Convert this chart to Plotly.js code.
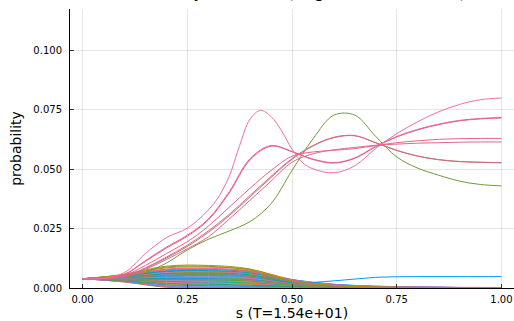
<!DOCTYPE html>
<html>
<head>
<meta charset="utf-8">
<script src="https://cdn.plot.ly/plotly-3.0.1.min.js"></script>
<style>html,body{margin:0;padding:0;background:#fff;}#chart{width:514px;height:321px;}</style>
</head>
<body>
<div id="chart"></div>
<script>
// ---- data ----
const chartTitle = "Probability evolution (largest states at end)";
const xTitle = "s (T=1.54e+01)";
const yTitle = "probability";
const xTickVals = [0, 0.25, 0.5, 0.75, 1.0];
const xTickText = ["0.00", "0.25", "0.50", "0.75", "1.00"];
const yTickVals = [0, 0.025, 0.05, 0.075, 0.1];
const yTickText = ["0.000", "0.025", "0.050", "0.075", "0.100"];

// most probable state, sampled more finely around its peak
const sA = [0,0.05,0.1,0.15,0.2,0.25,0.3,0.325,0.35,0.375,0.4,0.425,0.45,0.475,0.5,0.525,0.55,0.6,0.65,0.7,0.75,0.8,0.85,0.9,0.95,1.0];
const stateA = [0.0039,0.0041,0.0065,0.0145,0.0212,0.0252,0.0328,0.0385,0.0470,0.0600,0.0712,0.0748,0.0722,0.0662,0.0585,0.0528,0.0502,0.0485,0.0515,0.0588,0.0650,0.0700,0.0742,0.0773,0.0793,0.0800];

// other dominant states, sampled every 0.05 in s
const sHigh = [0,0.05,0.1,0.15,0.2,0.25,0.3,0.35,0.4,0.45,0.5,0.55,0.6,0.65,0.7,0.75,0.8,0.85,0.9,0.95,1.0];
const stateB1 = [0.0039,0.0040,0.0058,0.0115,0.0172,0.0222,0.0290,0.0405,0.0545,0.0600,0.0575,0.0543,0.0528,0.0548,0.0597,0.0638,0.0668,0.0690,0.0706,0.0714,0.0718];
const stateB2 = [0.0039,0.0040,0.0057,0.0112,0.0168,0.0218,0.0286,0.0400,0.0540,0.0597,0.0574,0.0541,0.0526,0.0546,0.0595,0.0636,0.0666,0.0688,0.0704,0.0712,0.0716];
const stateE = [0.0039,0.0040,0.0053,0.0095,0.0145,0.0195,0.0260,0.0340,0.0420,0.0495,0.0555,0.0573,0.0580,0.0587,0.0600,0.0612,0.0620,0.0626,0.0629,0.0630,0.0630];
const stateC1 = [0.0039,0.0040,0.0050,0.0085,0.0130,0.0180,0.0240,0.0310,0.0390,0.0470,0.0545,0.0600,0.0635,0.0642,0.0612,0.0580,0.0556,0.0541,0.0533,0.0530,0.0528];
const stateC2 = [0.0039,0.0040,0.0049,0.0082,0.0126,0.0175,0.0234,0.0304,0.0384,0.0465,0.0542,0.0598,0.0633,0.0641,0.0611,0.0579,0.0555,0.0540,0.0532,0.0529,0.0527];
const stateD = [0.0039,0.0040,0.0048,0.0078,0.0120,0.0165,0.0215,0.0290,0.0370,0.0450,0.0530,0.0565,0.0582,0.0592,0.0601,0.0606,0.0610,0.0612,0.0614,0.0615,0.0615];
const stateG = [0.0039,0.0040,0.0045,0.0065,0.0105,0.0160,0.0205,0.0240,0.0280,0.0355,0.0495,0.0628,0.0728,0.0728,0.0638,0.0552,0.0505,0.0475,0.0450,0.0436,0.0430];

// remaining states, sampled every 0.1 in s
const sLow = [0,0.1,0.2,0.3,0.4,0.5,0.6,0.7,0.8,0.9,1.0];
const low01 = [0.0039,0.0058,0.0092,0.0095,0.0080,0.0030,0.0010,0.0004,0.0002,0.0001,0.0000];
const low02 = [0.0039,0.0056,0.0088,0.0091,0.0075,0.0028,0.0009,0.0004,0.0002,0.0001,0.0000];
const low03 = [0.0039,0.0054,0.0080,0.0083,0.0072,0.0032,0.0012,0.0005,0.0002,0.0001,0.0000];
const low04 = [0.0039,0.0053,0.0077,0.0080,0.0068,0.0026,0.0009,0.0003,0.0001,0.0000,0.0000];
const low05 = [0.0039,0.0052,0.0072,0.0076,0.0068,0.0024,0.0030,0.0045,0.0048,0.0048,0.0048];
const low06 = [0.0039,0.0051,0.0070,0.0073,0.0064,0.0030,0.0011,0.0004,0.0002,0.0001,0.0000];
const low07 = [0.0039,0.0050,0.0067,0.0070,0.0062,0.0034,0.0015,0.0007,0.0004,0.0002,0.0001];
const low08 = [0.0039,0.0049,0.0064,0.0067,0.0059,0.0025,0.0008,0.0003,0.0001,0.0000,0.0000];
const low09 = [0.0039,0.0048,0.0061,0.0064,0.0056,0.0027,0.0010,0.0004,0.0002,0.0001,0.0000];
const low10 = [0.0039,0.0047,0.0058,0.0061,0.0054,0.0029,0.0012,0.0005,0.0002,0.0001,0.0000];
const low11 = [0.0039,0.0046,0.0055,0.0058,0.0051,0.0023,0.0008,0.0003,0.0001,0.0000,0.0000];
const low12 = [0.0039,0.0045,0.0053,0.0055,0.0049,0.0026,0.0011,0.0005,0.0003,0.0002,0.0001];
const low13 = [0.0039,0.0044,0.0050,0.0052,0.0046,0.0022,0.0008,0.0003,0.0001,0.0000,0.0000];
const low14 = [0.0039,0.0043,0.0048,0.0049,0.0044,0.0024,0.0010,0.0005,0.0003,0.0002,0.0001];
const low15 = [0.0039,0.0042,0.0045,0.0046,0.0041,0.0020,0.0008,0.0003,0.0002,0.0001,0.0001];
const low16 = [0.0039,0.0041,0.0043,0.0043,0.0038,0.0019,0.0007,0.0003,0.0001,0.0000,0.0000];
const low17 = [0.0039,0.0040,0.0040,0.0040,0.0036,0.0020,0.0009,0.0004,0.0002,0.0001,0.0000];
const low18 = [0.0039,0.0039,0.0038,0.0037,0.0033,0.0017,0.0007,0.0003,0.0001,0.0000,0.0000];
const low19 = [0.0039,0.0038,0.0035,0.0034,0.0030,0.0016,0.0007,0.0003,0.0001,0.0000,0.0000];
const low20 = [0.0039,0.0037,0.0033,0.0031,0.0028,0.0016,0.0008,0.0004,0.0003,0.0002,0.0001];
const low21 = [0.0039,0.0036,0.0030,0.0028,0.0025,0.0014,0.0006,0.0002,0.0001,0.0000,0.0000];
const low22 = [0.0039,0.0035,0.0028,0.0025,0.0022,0.0013,0.0006,0.0002,0.0001,0.0000,0.0000];
const low23 = [0.0039,0.0034,0.0025,0.0022,0.0019,0.0012,0.0006,0.0003,0.0002,0.0001,0.0001];
const low24 = [0.0039,0.0033,0.0022,0.0019,0.0016,0.0010,0.0005,0.0002,0.0001,0.0000,0.0000];
const low25 = [0.0039,0.0032,0.0020,0.0016,0.0013,0.0008,0.0004,0.0002,0.0001,0.0000,0.0000];
const low26 = [0.0039,0.0031,0.0017,0.0013,0.0011,0.0007,0.0003,0.0001,0.0000,0.0000,0.0000];
const low27 = [0.0039,0.0030,0.0014,0.0010,0.0008,0.0005,0.0003,0.0001,0.0000,0.0000,0.0000];
const low28 = [0.0039,0.0029,0.0012,0.0008,0.0006,0.0004,0.0002,0.0001,0.0000,0.0000,0.0000];
const low29 = [0.0039,0.0028,0.0009,0.0005,0.0004,0.0003,0.0001,0.0000,0.0000,0.0000,0.0000];
const low30 = [0.0039,0.0027,0.0007,0.0003,0.0002,0.0001,0.0000,0.0000,0.0000,0.0000,0.0000];
const low31 = [0.0039,0.0026,0.0005,0.0002,0.0001,0.0000,0.0000,0.0000,0.0000,0.0000,0.0000];
const low32 = [0.0039,0.0025,0.0003,0.0001,0.0000,0.0000,0.0000,0.0000,0.0000,0.0000,0.0000];
const low33 = [0.0039,0.0050,0.0069,0.0071,0.0063,0.0035,0.0016,0.0008,0.0004,0.0002,0.0001];
const low34 = [0.0039,0.0047,0.0062,0.0066,0.0060,0.0033,0.0013,0.0005,0.0002,0.0001,0.0000];
const low35 = [0.0039,0.0044,0.0052,0.0054,0.0050,0.0031,0.0014,0.0006,0.0003,0.0001,0.0000];
const low36 = [0.0039,0.0041,0.0044,0.0045,0.0042,0.0027,0.0012,0.0005,0.0003,0.0002,0.0001];
const low37 = [0.0039,0.0055,0.0085,0.0088,0.0078,0.0036,0.0014,0.0006,0.0003,0.0001,0.0000];
const low38 = [0.0039,0.0038,0.0036,0.0035,0.0032,0.0021,0.0010,0.0004,0.0002,0.0001,0.0000];
const low39 = [0.0039,0.0046,0.0057,0.0059,0.0053,0.0030,0.0013,0.0006,0.0004,0.0003,0.0002];
const low40 = [0.0039,0.0053,0.0075,0.0078,0.0070,0.0034,0.0012,0.0005,0.0002,0.0001,0.0000];

// ---- styles ----
const lowColors = ["#AC8E18","#8E971E","#ED5E93","#E36F47","#009AFA","#00AAAE","#C371D2","#C68225",
  "#00A98D","#618DF6","#3EA44E","#F05F73","#00A9CB","#9B7FE8","#DD65B7","#6C9E33",
  "#009AFA","#E36F47","#3EA44E","#C371D2","#AC8E18","#00AAAE","#ED5E93","#C68225",
  "#00A98D","#8E971E","#00A9CB","#9B7FE8","#618DF6","#F05F73","#DD65B7","#6C9E33",
  "#009AFA","#E36F47","#3EA44E","#C371D2","#AC8E18","#00AAAE","#ED5E93","#C68225"];
const lowList = [low01,low02,low03,low04,low05,low06,low07,low08,low09,low10,low11,low12,low13,low14,low15,low16,
  low17,low18,low19,low20,low21,low22,low23,low24,low25,low26,low27,low28,low29,low30,low31,low32,
  low33,low34,low35,low36,low37,low38,low39,low40];
const highList = [stateG, stateD, stateC1, stateC2, stateE, stateB1, stateB2];
const highColors = ["#6C9E33","#DA6C88","#C9747A","#D06E80","#EA6190","#E95F8C","#EC5E90"];

const traces = [];
for (let i = lowList.length - 1; i >= 0; i--) {
  traces.push({x: sLow, y: lowList[i], type: "scatter", mode: "lines",
    line: {color: lowColors[i], width: 1, shape: "spline", smoothing: 1}, hoverinfo: "skip"});
}
for (let i = 0; i < highList.length; i++) {
  traces.push({x: sHigh, y: highList[i], type: "scatter", mode: "lines",
    line: {color: highColors[i], width: 1, shape: "spline", smoothing: 1}, hoverinfo: "skip"});
}
traces.push({x: sA, y: stateA, type: "scatter", mode: "lines",
  line: {color: "#F0709E", width: 1, shape: "spline", smoothing: 1}, hoverinfo: "skip"});

const tickFont = {family: "DejaVu Sans", size: 10, color: "#000"};
const guideFont = {family: "DejaVu Sans", size: 14, color: "#000"};
const layout = {
  width: 514, height: 321,
  margin: {l: 70, r: 0, t: 9, b: 33, pad: 0},
  paper_bgcolor: "#fff", plot_bgcolor: "#fff",
  showlegend: false,
  title: {text: chartTitle, font: {family: "DejaVu Sans", size: 16, color: "#000"},
    x: 0.5, xref: "paper", xanchor: "center", y: 1, yref: "paper", yanchor: "bottom", pad: {b: 11}},
  xaxis: {range: [-0.03, 1.03], tickvals: xTickVals, ticktext: xTickText,
    showline: true, linecolor: "#000", linewidth: 1, mirror: false,
    showgrid: true, gridcolor: "rgba(0,0,0,0.1)", gridwidth: 1, zeroline: false,
    ticks: "inside", ticklen: 4, tickcolor: "#333", tickfont: tickFont, ticklabelstandoff: 2,
    title: {text: xTitle, font: guideFont, standoff: 4}},
  yaxis: {range: [0, 0.1175], tickvals: yTickVals, ticktext: yTickText,
    showline: true, linecolor: "#000", linewidth: 1, mirror: false,
    showgrid: true, gridcolor: "rgba(0,0,0,0.1)", gridwidth: 1, zeroline: false,
    ticks: "inside", ticklen: 4, tickcolor: "#333", tickfont: tickFont, ticklabelstandoff: 5,
    title: {text: yTitle, font: guideFont, standoff: 8}}
};
Plotly.newPlot("chart", traces, layout, {staticPlot: true, displayModeBar: false});
</script>
</body>
</html>
